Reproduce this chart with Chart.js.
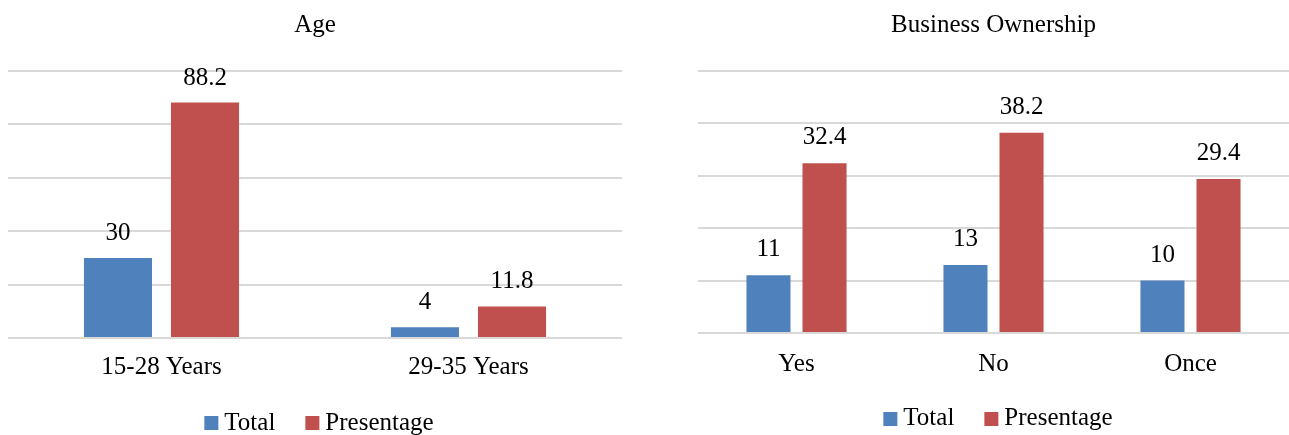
<!DOCTYPE html>
<html>
<head>
<meta charset="utf-8">
<script src="https://cdn.jsdelivr.net/npm/chart.js@4.4.1/dist/chart.umd.min.js"></script>
<style>
  html, body { margin: 0; padding: 0; background: #fff; overflow: hidden; }
  body { width: 1289px; height: 435px; position: relative; }
  canvas { position: absolute; top: 0; }
  #age { left: 0; }
  #own { left: 650px; }
</style>
</head>
<body>
<canvas id="age" width="640" height="435"></canvas>
<canvas id="own" width="639" height="435"></canvas>
<script>
// ---- Data ----
const seriesNames = ['Total', 'Presentage'];
const seriesColors = ['#4f81bd', '#c0504d'];

const ageTitle = 'Age';
const ageCategories = ['15-28 Years', '29-35 Years'];
const ageTotal = [30, 4];
const agePercent = [88.2, 11.8];
const ageAxisTicks = [0, 20, 40, 60, 80, 100];

const ownTitle = 'Business Ownership';
const ownCategories = ['Yes', 'No', 'Once'];
const ownTotal = [11, 13, 10];
const ownPercent = [32.4, 38.2, 29.4];
const ownAxisTicks = [0, 10, 20, 30, 40, 50];

// ---- Styling ----
const FONT = "'Liberation Serif', 'Times New Roman', serif";
const FSIZE = 25;
const TEXT = '#000000';

const valueLabels = {
  id: 'valueLabels',
  afterDatasetsDraw(chart) {
    const ctx = chart.ctx;
    ctx.save();
    ctx.font = FSIZE + 'px ' + FONT;
    ctx.fillStyle = TEXT;
    ctx.textAlign = 'center';
    ctx.textBaseline = 'alphabetic';
    chart.data.datasets.forEach((ds, di) => {
      const meta = chart.getDatasetMeta(di);
      meta.data.forEach((el, i) => {
        ctx.fillText(String(ds.data[i]), el.x, el.y - chart.options.plugins.valueLabels.gap);
      });
    });
    ctx.restore();
  }
};

const customLegend = {
  id: 'customLegend',
  afterDraw(chart) {
    const o = chart.options.plugins.customLegend;
    const ctx = chart.ctx;
    ctx.save();
    ctx.font = FSIZE + 'px ' + FONT;
    ctx.textBaseline = 'alphabetic';
    ctx.textAlign = 'left';
    const box = 14, gapText = 6, gapItem = 30;
    const items = chart.data.datasets.map(ds => ({ text: ds.label, color: ds.backgroundColor, w: ctx.measureText(ds.label).width }));
    let total = 0;
    items.forEach((it, i) => { total += box + gapText + it.w + (i < items.length - 1 ? gapItem : 0); });
    let x = o.centerX - total / 2;
    items.forEach(it => {
      ctx.fillStyle = it.color;
      ctx.fillRect(x, o.boxTop, box, box);
      x += box + gapText;
      ctx.fillStyle = TEXT;
      ctx.fillText(it.text, x, o.baseline);
      x += it.w + gapItem;
    });
    ctx.restore();
  }
};

function makeChart(id, title, cats, total, pct, ticks, cfg) {
  const ymax = ticks[ticks.length - 1];
  const step = ticks[1] - ticks[0];
  return new Chart(document.getElementById(id), {
    type: 'bar',
    data: {
      labels: cats,
      datasets: [
        { label: seriesNames[0], data: total, backgroundColor: seriesColors[0],
          categoryPercentage: cfg.cat, barPercentage: cfg.bar },
        { label: seriesNames[1], data: pct, backgroundColor: seriesColors[1],
          categoryPercentage: cfg.cat, barPercentage: cfg.bar }
      ]
    },
    options: {
      responsive: false,
      animation: false,
      devicePixelRatio: 1,
      layout: { padding: { left: cfg.padLeft, right: cfg.padRight, top: 0, bottom: 0 } },
      plugins: {
        legend: { display: false },
        tooltip: { enabled: false },
        title: {
          display: true, text: title, color: TEXT,
          font: { family: FONT, size: FSIZE, weight: 'normal', lineHeight: 1.2 },
          padding: { top: 10, bottom: cfg.titleBottom }
        },
        valueLabels: { gap: cfg.labelGap },
        customLegend: { centerX: cfg.legendX, boxTop: cfg.boxTop, baseline: cfg.legendBase }
      },
      scales: {
        x: {
          grid: { display: false, drawTicks: false },
          border: { display: false },
          ticks: { color: TEXT, font: { family: FONT, size: FSIZE }, padding: cfg.tickPad },
          afterFit(s) { s.height = cfg.xHeight; }
        },
        y: {
          min: 0, max: ymax,
          afterBuildTicks(s) { s.ticks = ticks.map(v => ({ value: v })); },
          grid: { color: '#d9d9d9', lineWidth: 2, drawTicks: false },
          border: { display: false },
          ticks: { display: false },
          afterFit(s) { s.width = 0; }
        }
      }
    },
    plugins: [valueLabels, customLegend]
  });
}

makeChart('age', ageTitle, ageCategories, ageTotal, agePercent, ageAxisTicks, {
  cat: 0.567, bar: 0.782, padLeft: 8, padRight: 18, titleBottom: 31,
  xHeight: 97, tickPad: 14, labelGap: 18, legendX: 319, boxTop: 416, legendBase: 430
});
makeChart('own', ownTitle, ownCategories, ownTotal, ownPercent, ownAxisTicks, {
  cat: 0.569, bar: 0.786, padLeft: 48, padRight: 0, titleBottom: 31,
  xHeight: 102, tickPad: 16, labelGap: 19, legendX: 348, boxTop: 412, legendBase: 425
});
</script>
</body>
</html>
